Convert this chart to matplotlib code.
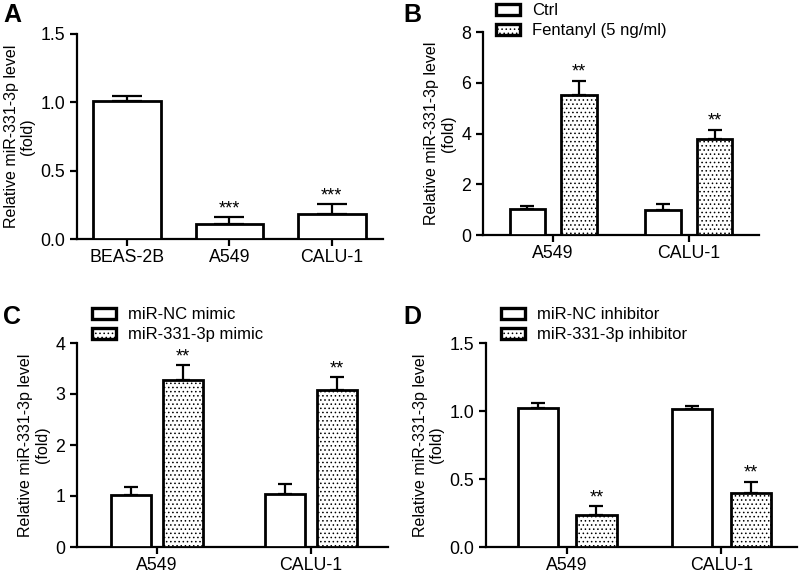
import matplotlib
matplotlib.use("Agg")
import matplotlib.pyplot as plt
import numpy as np

plt.rcParams["font.family"] = ["Liberation Sans", "DejaVu Sans"]
plt.rcParams["hatch.linewidth"] = 0.6
plt.rcParams["hatch.color"] = "#333333"

# ---- data ----
a_groups = ["BEAS-2B", "A549", "CALU-1"]
a_means = [1.01, 0.11, 0.18]
a_errs = [0.04, 0.05, 0.075]
a_stars = ["", "***", "***"]

cells = ["A549", "CALU-1"]

b_labels = ["Ctrl", "Fentanyl (5 ng/ml)"]
b_ctrl = [1.02, 1.00]
b_ctrl_err = [0.13, 0.22]
b_treat = [5.51, 3.77]
b_treat_err = [0.56, 0.38]

c_labels = ["miR-NC mimic", "miR-331-3p mimic"]
c_ctrl = [1.01, 1.04]
c_ctrl_err = [0.17, 0.19]
c_treat = [3.28, 3.08]
c_treat_err = [0.28, 0.25]

d_labels = ["miR-NC inhibitor", "miR-331-3p inhibitor"]
d_ctrl = [1.02, 1.015]
d_ctrl_err = [0.04, 0.025]
d_treat = [0.235, 0.395]
d_treat_err = [0.065, 0.085]

pair_stars = ["**", "**"]

DOTS = "...."

W, H = 800, 573
fig = plt.figure(figsize=(W / 100, H / 100), dpi=100)


def make_ax(l, r, t, b):
    ax = fig.add_axes([l / W, 1 - b / H, (r - l) / W, (b - t) / H])
    for s in ["top", "right"]:
        ax.spines[s].set_visible(False)
    for s in ["left", "bottom"]:
        ax.spines[s].set_linewidth(1.6)
    ax.tick_params(axis="both", width=1.6, length=5, labelsize=12.8, direction="out")
    ax.tick_params(axis="x", pad=2.5)
    ax.set_ylabel("Relative miR-331-3p level\n(fold)", fontsize=11.5, linespacing=1.1)
    return ax


def bars(ax, x, vals, errs, hatch=None):
    ax.bar(x, vals, width=0.26, facecolor="white", edgecolor="black",
           linewidth=2.0, hatch=hatch, zorder=3)
    ax.errorbar(x, vals, yerr=[np.zeros(len(vals)), errs], fmt="none",
                ecolor="black", elinewidth=1.6, capsize=5, capthick=1.6, zorder=2)


def stars(ax, x, vals, errs, marks, pad):
    for xi, v, e, m in zip(x, vals, errs, marks):
        if m:
            ax.text(xi, v + e + pad, m, ha="center", va="bottom", fontsize=13)


def legend(ax, handles, labels, px, py):
    ax.legend(handles, labels, loc="upper left", frameon=False,
              bbox_to_anchor=(px / W, 1 - py / H), bbox_transform=fig.transFigure,
              fontsize=12, handlelength=1.45, handleheight=0.65,
              handletextpad=0.7, labelspacing=0.3, borderpad=0, borderaxespad=0)


# ---- panel A ----
ax = make_ax(77, 383, 34, 239)
xa = np.arange(len(a_groups))
ax.bar(xa, a_means, width=0.66, facecolor="white", edgecolor="black", linewidth=2.0, zorder=3)
ax.errorbar(xa, a_means, yerr=[np.zeros(3), a_errs], fmt="none", ecolor="black",
            elinewidth=1.6, capsize=11, capthick=1.6, zorder=2)
stars(ax, xa, a_means, a_errs, a_stars, 0.0)
ax.set_xlim(-0.49, 2.5)
ax.set_ylim(0, 1.5)
ax.set_yticks([0, 0.5, 1.0, 1.5])
ax.set_yticklabels(["0.0", "0.5", "1.0", "1.5"])
ax.set_xticks(xa)
ax.set_xticklabels(a_groups)


def pair_panel(l, r, t, b, ctrl, ctrl_err, treat, treat_err, labels,
               ylim, yticks, yticklabels, xlim, off, pad, leg_xy):
    ax = make_ax(l, r, t, b)
    x = np.arange(len(cells))
    bars(ax, x - off, ctrl, ctrl_err)
    bars(ax, x + off, treat, treat_err, hatch=DOTS)
    stars(ax, x + off, treat, treat_err, pair_stars, pad)
    ax.set_xlim(*xlim)
    ax.set_ylim(*ylim)
    ax.set_yticks(yticks)
    ax.set_yticklabels(yticklabels)
    ax.set_xticks(x)
    ax.set_xticklabels(cells)
    h1 = plt.Rectangle((0, 0), 1, 1, facecolor="white", edgecolor="black", linewidth=2.4)
    h2 = plt.Rectangle((0, 0), 1, 1, facecolor="white", edgecolor="black", linewidth=2.4,
                       hatch=DOTS)
    legend(ax, [h1, h2], labels, *leg_xy)
    return ax


pair_panel(483, 759, 32, 235, b_ctrl, b_ctrl_err, b_treat, b_treat_err, b_labels,
           (0, 8), [0, 2, 4, 6, 8], ["0", "2", "4", "6", "8"], (-0.515, 1.515), 0.19,
           0.0, (496, 3))
pair_panel(77, 388, 343, 547, c_ctrl, c_ctrl_err, c_treat, c_treat_err, c_labels,
           (0, 4), [0, 1, 2, 3, 4], ["0", "1", "2", "3", "4"], (-0.52, 1.5), 0.17,
           0.0, (92, 307))
pair_panel(486, 797, 343, 547, d_ctrl, d_ctrl_err, d_treat, d_treat_err, d_labels,
           (0, 1.5), [0, 0.5, 1.0, 1.5], ["0.0", "0.5", "1.0", "1.5"], (-0.526, 1.49), 0.19,
           0.0, (501, 307))

for letter, px, py in [("A", 3, 3), ("B", 403, 3), ("C", 3, 305), ("D", 403, 305)]:
    fig.text(px / W, 1 - py / H, letter, fontsize=18, fontweight="bold", ha="left", va="top")

fig.savefig("out.png", dpi=100)
